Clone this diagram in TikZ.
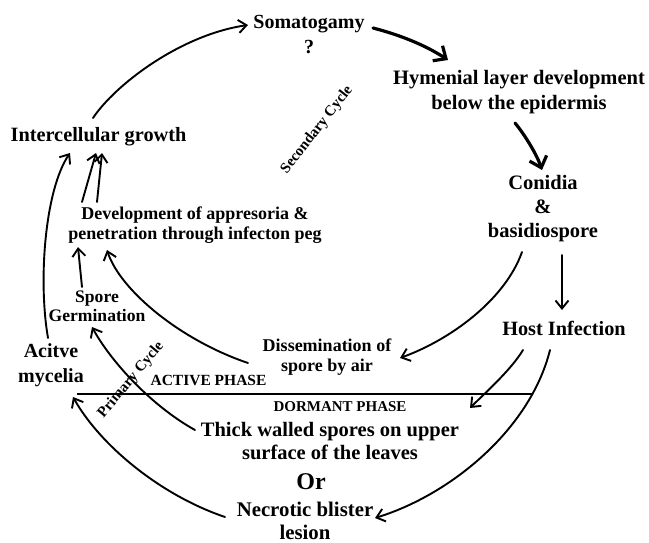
\documentclass[tikz,border=0pt]{standalone}
\usepackage{fontspec}
\setmainfont{Liberation Serif}
\usetikzlibrary{arrows.meta}
\newcommand\myfs[2]{\fontsize{#1}{#2}\selectfont\bfseries}
\begin{document}
\begin{tikzpicture}[x=1pt,y=-1pt,
  lbl/.style={align=center, inner sep=0pt},
  arr/.style={line width=1.9pt, line cap=round, -{Straight Barb[length=8pt,width=13pt]}},
  tharr/.style={line width=3.2pt, line cap=round, -{Straight Barb[length=10pt,width=18pt]}},
  divider/.style={line width=2.6pt}
]
\fill[white] (0,0) rectangle (649,543);
\useasboundingbox (0,0) rectangle (649,543);

% nodes
\node[lbl,font=\myfs{20}{25}] (somat) at (309,35) {Somatogamy\\?};
\node[lbl,font=\myfs{20.5}{25}] (hymen) at (519,92.5) {Hymenial layer development\\below the epidermis};
\node[lbl,font=\myfs{20.5}{24}] (conid) at (543,209) {Conidia\\\&\\basidiospore};
\node[lbl,font=\myfs{20.3}{24}] (host) at (564,328) {Host Infection};
\node[lbl,font=\myfs{20.3}{24}] (inter) at (98.5,137) {Intercellular growth};
\node[lbl,font=\myfs{18}{20}] (devel) at (195,225) {Development of appresoria \&\\penetration through infecton peg};
\node[lbl,font=\myfs{17.6}{19}] (spore) at (97,306.5) {Spore\\Germination};
\node[lbl,font=\myfs{20}{25}] (acitve) at (51,365.5) {Acitve\\mycelia};
\node[lbl,font=\myfs{18}{20}] (dissem) at (327,357) {Dissemination of\\spore by air};
\node[lbl,font=\myfs{20.5}{23}] (thick) at (330,441.5) {Thick walled spores on upper\\surface of the leaves};
\node[lbl,font=\myfs{24}{26}] (or) at (311,482) {Or};
\node[lbl,font=\myfs{20.8}{23}] (necro) at (305,520.5) {Necrotic blister\\lesion};
\node[lbl,font=\myfs{15.5}{18}] (active) at (208.5,380) {ACTIVE PHASE};
\node[lbl,font=\myfs{15}{18}] (dormant) at (340,407) {DORMANT PHASE};
\node[lbl,font=\myfs{15}{18},rotate=52] (sec) at (317,130) {Secondary Cycle};
\node[lbl,font=\myfs{15}{18},rotate=50] (prim) at (131,380) {Primary Cycle};

% divider
\coordinate (divL) at (77,394);
\coordinate (divR) at (532,394);
\draw[divider] (divL) -- (divR);

% connectors
\draw[arr] ([shift={(-5.5,-19)}]inter.center) .. controls +(22,-33) and +(-68,10) .. ([shift={(-61,-10)}]somat.center);
\draw[tharr] ([shift={(64,-7)}]somat.center) .. controls +(27,7) and +(-23,-15) .. ([shift={(-71,-32.5)}]hymen.center);
\draw[tharr] ([shift={(-4,30.5)}]hymen.center) .. controls +(10,12) and +(-5,-15) .. ([shift={(-1,-39)}]conid.center);
\draw[arr] ([shift={(-21,43)}]conid.center) .. controls +(-17,48) and +(50,-18) .. ([shift={(73,1)}]dissem.center);
\draw[arr] ([shift={(19,46)}]conid.center) -- ([shift={(-2,-18)}]host.center);
\draw[arr] ([shift={(-41,22)}]host.center) .. controls +(-12,20) and +(15,-15) .. ([shift={(140,-33.5)}]thick.center);
\draw[arr] ([shift={(-14,22)}]host.center) .. controls +(-20,80) and +(75,-23) .. ([shift={(70,-2.5)}]necro.center);
\draw[arr] ([shift={(-80,-3.5)}]necro.center) .. controls +(-65,-22) and +(27,48) .. ([shift={(22,31.5)}]acitve.center);
\draw[arr] ([shift={(-135,-11.5)}]thick.center) .. controls +(-45,-25) and +(18,33) .. ([shift={(-5,20.5)}]spore.center);
\draw[arr] ([shift={(-79,6)}]dissem.center) .. controls +(-68,-23) and +(13,40) .. ([shift={(-88,25)}]devel.center);
\draw[arr] ([shift={(-15,-19.5)}]spore.center) -- ([shift={(-117,22)}]devel.center);
\draw[arr] ([shift={(-3,-27.5)}]acitve.center) .. controls +(-10,-58) and +(-25,37) .. ([shift={(-28.5,16)}]inter.center);
\draw[arr] ([shift={(-113,-23)}]devel.center) -- ([shift={(-2.5,16)}]inter.center);
\draw[arr] ([shift={(-98,-23)}]devel.center) -- ([shift={(3.5,16)}]inter.center);
\end{tikzpicture}
\end{document}
